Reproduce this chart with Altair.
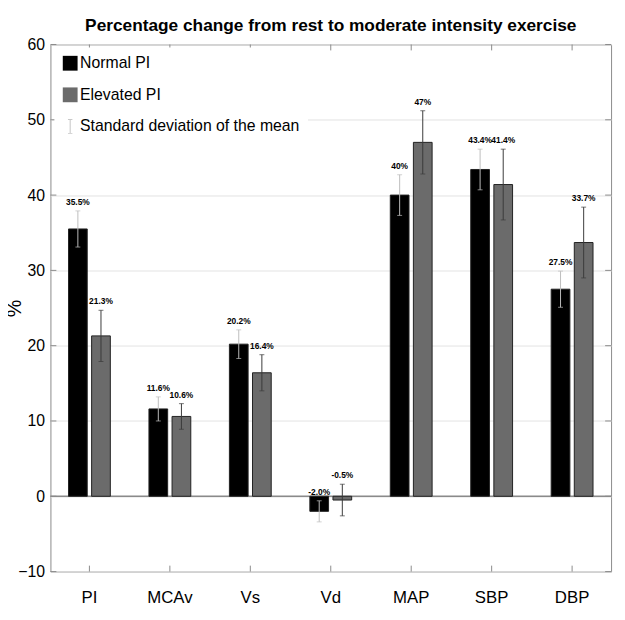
import altair as alt
import pandas as pd

categories = ["PI", "MCAv", "Vs", "Vd", "MAP", "SBP", "DBP"]
series = ["Normal PI", "Elevated PI"]
normal = [35.5, 11.6, 20.2, -2.0, 40.0, 43.4, 27.5]
elevated = [21.3, 10.6, 16.4, -0.5, 47.0, 41.4, 33.7]
normal_sd = [2.4, 1.6, 1.9, 1.4, 2.7, 2.7, 2.4]
elevated_sd = [3.4, 1.7, 2.4, 2.1, 4.2, 4.7, 4.7]
normal_lbl = ["35.5%", "11.6%", "20.2%", "-2.0%", "40%", "43.4%", "27.5%"]
elevated_lbl = ["21.3%", "10.6%", "16.4%", "-0.5%", "47%", "41.4%", "33.7%"]
y_ticks = [-10, 0, 10, 20, 30, 40, 50, 60]
legend_items = ["Normal PI", "Elevated PI", "Standard deviation of the mean"]
title_text = "Percentage change from rest to moderate intensity exercise"

bar_colors = ["#000000", "#6b6b6b"]
err_colors = ["#bdbdbd", "#3a3a3a"]

rows = []
for vals, sds, lbls, s in [(normal, normal_sd, normal_lbl, series[0]),
                           (elevated, elevated_sd, elevated_lbl, series[1])]:
    for c, v, sd, l in zip(categories, vals, sds, lbls):
        rows.append({"cat": c, "series": s, "value": v, "lo": v - sd, "hi": v + sd, "label": l})
df = pd.DataFrame(rows)

FONT = "Liberation Sans, Arial, sans-serif"
W, H = 568, 534

xscale = alt.Scale(domain=categories, paddingInner=0.48, paddingOuter=0.2245)
yscale = alt.Scale(domain=[-10, 60], nice=False, zero=False)
xoff = alt.XOffset("series:N", scale=alt.Scale(domain=series, paddingInner=0.19, paddingOuter=0), sort=series)

x_enc = alt.X("cat:N", scale=xscale, sort=categories,
              axis=alt.Axis(title=None, labelFontSize=17, labelFont=FONT, labelAngle=0,
                            ticks=False, labelPadding=18, domain=False, grid=False,
                            labelColor="#000"))
y_axis = alt.Axis(values=y_ticks, title="%", titleFontSize=20, titleFont=FONT,
                  titleFontWeight="normal", titleX=-36, titleY=267, titleAngle=270,
                  titleAlign="center", titleBaseline="middle", titleColor="#000",
                  labelFontSize=16, labelFont=FONT, labelColor="#000", labelPadding=6,
                  ticks=False, domain=False, grid=True, gridColor="#e3e3e3")

base = alt.Chart(df)

grid_layer = base.mark_bar(opacity=0).encode(
    x=x_enc, y=alt.Y("value:Q", scale=yscale, axis=y_axis))

zero_rule = alt.Chart(pd.DataFrame({"z": [0]})).mark_rule(color="#8a8a8a", strokeWidth=1.5).encode(
    y=alt.Y("z:Q", scale=yscale))

bars = base.mark_bar(stroke="#222222", strokeWidth=1).encode(
    x=alt.X("cat:N", scale=xscale, sort=categories),
    xOffset=xoff,
    y=alt.Y("value:Q", scale=yscale),
    y2=alt.datum(0),
    fill=alt.Fill("series:N", scale=alt.Scale(domain=series, range=bar_colors), legend=None),
)

err_layers = []
for s, col in zip(series, err_colors):
    d = base.transform_filter(alt.datum.series == s)
    err_layers.append(d.mark_rule(color=col, strokeWidth=1).encode(
        x=alt.X("cat:N", scale=xscale, sort=categories), xOffset=xoff,
        y=alt.Y("lo:Q", scale=yscale), y2="hi:Q"))
    for fld in ["lo", "hi"]:
        err_layers.append(d.mark_tick(color=col, size=5, thickness=1, orient="horizontal").encode(
            x=alt.X("cat:N", scale=xscale, sort=categories), xOffset=xoff,
            y=alt.Y(f"{fld}:Q", scale=yscale)))

labels = base.mark_text(font=FONT, fontSize=8.5, fontWeight="bold", baseline="bottom", dy=-4,
                        color="#000").encode(
    x=alt.X("cat:N", scale=xscale, sort=categories), xOffset=xoff,
    y=alt.Y("hi:Q", scale=yscale), text="label:N")

# inward ticks (MATLAB style box)
tk = pd.DataFrame({"t": y_ticks})
left_ticks = alt.Chart(tk).mark_rule(color="#8a8a8a").encode(
    y=alt.Y("t:Q", scale=yscale), x=alt.value(0), x2=alt.value(6))
right_ticks = alt.Chart(tk).mark_rule(color="#8a8a8a").encode(
    y=alt.Y("t:Q", scale=yscale), x=alt.value(W - 6), x2=alt.value(W))
ck = pd.DataFrame({"c": categories})
bottom_ticks = alt.Chart(ck).mark_rule(color="#8a8a8a").encode(
    x=alt.X("c:N", scale=xscale, sort=categories), y=alt.value(H - 6), y2=alt.value(H))
top_ticks = alt.Chart(ck).mark_rule(color="#8a8a8a").encode(
    x=alt.X("c:N", scale=xscale, sort=categories), y=alt.value(0), y2=alt.value(6))

title_layer = alt.Chart(pd.DataFrame({"t": [title_text]})).mark_text(
    font=FONT, fontSize=17.5, fontWeight="bold", color="#000", align="center",
    baseline="alphabetic", clip=False).encode(
    x=alt.value(W / 2), y=alt.value(-14), text="t:N")

legend_layer = alt.Chart(pd.DataFrame({"item": legend_items})).transform_filter("false").mark_point(
    filled=True, opacity=1).encode(
    color=alt.Color("item:N", sort=legend_items,
                    scale=alt.Scale(domain=legend_items, range=["#000000", "#6b6b6b", "#c8c8c8"]),
                    legend=alt.Legend(title=None, orient="none", legendX=4, legendY=3,
                                      fillColor="white", padding=8, symbolSize=225,
                                      symbolOpacity=1, symbolStrokeWidth=0,
                                      labelFont=FONT, labelFontSize=16, labelColor="#000",
                                      labelOffset=2, rowPadding=16, labelLimit=400)),
    shape=alt.Shape("item:N", sort=legend_items,
                    scale=alt.Scale(domain=legend_items, range=[
                        "square", "square",
                        "M-0.07,-1H0.07V1H-0.07Z M-0.3,-1H0.3V-0.88H-0.3Z M-0.3,0.88H0.3V1H-0.3Z"]),
                    legend=alt.Legend(title=None, orient="none", legendX=4, legendY=3)),
)

chart = alt.layer(
    grid_layer, zero_rule, bars, *err_layers, labels,
    left_ticks, right_ticks, bottom_ticks, top_ticks, title_layer, legend_layer
).properties(
    width=W, height=H,
    autosize=alt.AutoSizeParams(type="none"),
    padding={"left": 43, "top": 33, "right": 6, "bottom": 37},
    background="white",
).configure_view(stroke="#8a8a8a", strokeWidth=1)

chart.save("out.html", embed_options={"renderer": "svg", "actions": False})
